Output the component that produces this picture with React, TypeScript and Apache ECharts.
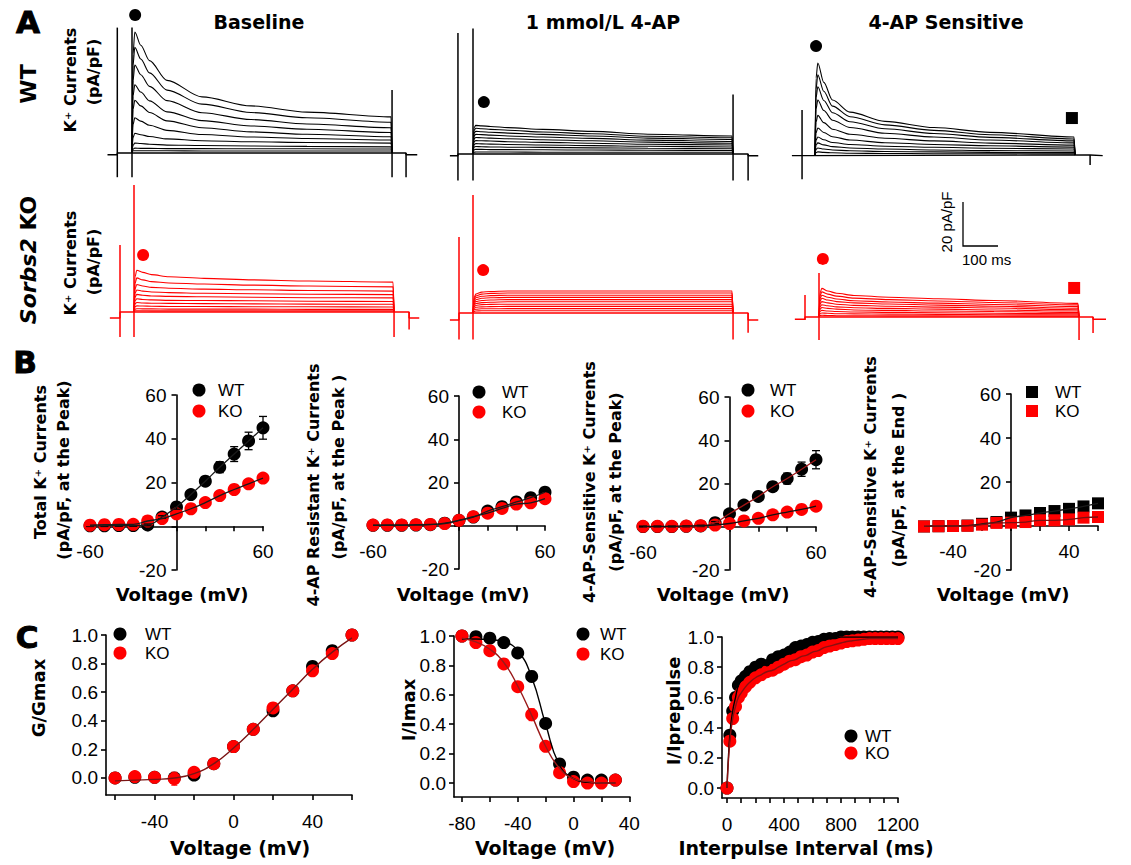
import React, { useEffect, useRef } from "react";
import * as echarts from "echarts";

const SANS = "'Liberation Sans', Arial, sans-serif";
const HEAVY = "'DejaVu Sans', sans-serif";
const RED = "#ff0000";
const BLACK = "#000000";

// ---------------- Panel A : current traces (pA/pF vs ms from step onset) ----------------
const A_TIME = [0, 3, 8, 25, 50, 100, 200, 340, 500, 740, 743];

const WT_BASELINE_SWEEPS = [
  [0, 45, 55, 49, 42, 33, 25.5, 21.4, 18.6, 16.4, 0],
  [0, 40, 48, 42.7, 36.4, 28.6, 22.2, 18.4, 16, 14, 0],
  [0, 33, 40, 35.6, 30.3, 23.8, 18.3, 15.2, 13.2, 11.5, 0],
  [0, 26, 31, 27.7, 23.7, 18.7, 14.7, 12.3, 10.8, 9.3, 0],
  [0, 20, 24, 21.4, 18.4, 14.6, 11.5, 9.6, 8.5, 7.4, 0],
  [0, 13, 16, 14.5, 12.6, 10.3, 8.4, 7.3, 6.6, 5.9, 0],
  [0, 7, 9, 8.3, 7.5, 6.4, 5.6, 5.1, 4.8, 4.5, 0],
  [0, 3.5, 4.5, 4.3, 4, 3.6, 3.4, 3.2, 3.0, 2.8, 0],
  [0, 1.8, 2.2, 2.1, 2.1, 2, 2, 1.9, 1.9, 1.8, 0],
  [0, 1, 1, 1, 1, 1, 0.9, 0.9, 0.9, 0.9, 0],
];
const WT_4AP_SWEEPS = [
  [0, 12, 13, 12.8, 12.5, 12, 11.2, 10.3, 9, 8.2, 0],
  [0, 10.8, 11.7, 11.5, 11.2, 10.8, 10, 9.2, 8.1, 7.4, 0],
  [0, 9.5, 10.3, 10.1, 9.9, 9.5, 8.9, 8.2, 7.2, 6.6, 0],
  [0, 8.2, 8.9, 8.8, 8.6, 8.2, 7.7, 7.1, 6.3, 5.7, 0],
  [0, 6.9, 7.5, 7.4, 7.2, 6.9, 6.5, 6, 5.4, 4.9, 0],
  [0, 5.6, 6.1, 6, 5.9, 5.6, 5.3, 4.9, 4.4, 4.1, 0],
  [0, 4.3, 4.7, 4.6, 4.5, 4.3, 4.1, 3.8, 3.5, 3.2, 0],
  [0, 3.1, 3.4, 3.3, 3.2, 3.1, 3, 2.8, 2.6, 2.4, 0],
  [0, 1.9, 2.1, 2.1, 2, 2, 1.9, 1.8, 1.7, 1.6, 0],
  [0, 0.8, 0.9, 0.9, 0.9, 0.9, 0.8, 0.8, 0.8, 0.8, 0],
];
const WT_SENS_SWEEPS = [
  [0, 35, 41.8, 33, 25, 19.5, 15.3, 12.5, 10.3, 8.2, 0],
  [0, 30, 36.4, 29, 22.2, 17.4, 13.7, 11.2, 9.2, 7.3, 0],
  [0, 26, 31, 24.8, 19.2, 15.1, 11.9, 9.8, 8, 6.4, 0],
  [0, 21, 25, 20.2, 15.8, 12.5, 9.9, 8.2, 6.8, 5.5, 0],
  [0, 15, 18, 14.7, 11.7, 9.4, 7.6, 6.4, 5.4, 4.5, 0],
  [0, 10, 12.3, 10.2, 8.3, 6.8, 5.6, 4.8, 4.2, 3.6, 0],
  [0, 6.8, 8.2, 6.9, 5.7, 4.8, 4, 3.5, 3.1, 2.7, 0],
  [0, 4.5, 5.5, 4.6, 3.8, 3.2, 2.7, 2.3, 2, 1.8, 0],
  [0, 2.6, 3.2, 2.7, 2.3, 1.9, 1.6, 1.4, 1.2, 1.1, 0],
  [0, 1.1, 1.4, 1.2, 1, 0.8, 0.7, 0.6, 0.55, 0.5, 0],
];
const KO_BASELINE_SWEEPS = [
  [0, 16, 19, 18, 17, 16, 15.3, 14.6, 14.1, 13.6, 0],
  [0, 13, 15.5, 14.6, 13.8, 13.2, 12.7, 12.2, 11.8, 11.4, 0],
  [0, 10.5, 12.5, 11.8, 11.2, 10.8, 10.4, 10.1, 9.8, 9.5, 0],
  [0, 8.5, 10, 9.5, 9.1, 8.8, 8.5, 8.3, 8.1, 7.9, 0],
  [0, 6.8, 8, 7.6, 7.3, 7.1, 6.9, 6.7, 6.5, 6.4, 0],
  [0, 5.1, 6, 5.7, 5.5, 5.3, 5.2, 5.1, 4.9, 4.8, 0],
  [0, 3.7, 4.3, 4.1, 4, 3.9, 3.8, 3.7, 3.6, 3.5, 0],
  [0, 2.4, 2.8, 2.7, 2.6, 2.5, 2.5, 2.4, 2.4, 2.3, 0],
  [0, 1.3, 1.5, 1.4, 1.4, 1.3, 1.3, 1.3, 1.2, 1.2, 0],
  [0, 0.5, 0.6, 0.6, 0.5, 0.5, 0.5, 0.5, 0.5, 0.5, 0],
];
const KO_4AP_SWEEPS = [
  [0, 7, 8.6, 9.5, 9.8, 10, 10, 10, 10, 10, 0],
  [0, 6.3, 7.8, 8.6, 8.9, 9.1, 9.1, 9.1, 9.1, 9.1, 0],
  [0, 5.6, 6.9, 7.6, 7.9, 8.1, 8.1, 8.1, 8.1, 8.1, 0],
  [0, 4.9, 6, 6.7, 6.9, 7.1, 7.1, 7.1, 7.1, 7.1, 0],
  [0, 4.2, 5.2, 5.7, 5.9, 6.1, 6.1, 6.1, 6.1, 6.1, 0],
  [0, 3.5, 4.3, 4.7, 4.9, 5.1, 5.1, 5.1, 5.1, 5.1, 0],
  [0, 2.8, 3.4, 3.8, 3.9, 4, 4, 4, 4, 4, 0],
  [0, 2.1, 2.6, 2.8, 2.9, 3, 3, 3, 3, 3, 0],
  [0, 1.4, 1.7, 1.9, 1.9, 2, 2, 2, 2, 2, 0],
  [0, 0.7, 0.9, 1, 1, 1, 1, 1, 1, 1, 0],
];
const KO_SENS_SWEEPS = [
  [0, 11, 13, 11.8, 10.8, 9.8, 9, 8.3, 7.5, 6.2, 0],
  [0, 9.7, 11.4, 10.4, 9.5, 8.6, 7.9, 7.3, 6.6, 5.5, 0],
  [0, 8.4, 9.9, 9, 8.2, 7.4, 6.8, 6.3, 5.7, 4.7, 0],
  [0, 7.2, 8.5, 7.7, 7, 6.4, 5.9, 5.4, 4.9, 4, 0],
  [0, 5.9, 7, 6.4, 5.8, 5.3, 4.9, 4.5, 4.1, 3.3, 0],
  [0, 4.7, 5.6, 5.1, 4.6, 4.2, 3.9, 3.6, 3.2, 2.7, 0],
  [0, 3.6, 4.3, 3.9, 3.6, 3.2, 3, 2.7, 2.5, 2, 0],
  [0, 2.5, 3, 2.7, 2.5, 2.3, 2.1, 1.9, 1.7, 1.4, 0],
  [0, 1.5, 1.8, 1.7, 1.5, 1.4, 1.3, 1.2, 1, 0.9, 0],
  [0, 0.7, 0.8, 0.7, 0.6, 0.6, 0.5, 0.5, 0.4, 0.4, 0],
];

// holding-current polylines [t, I]
const WT_BASELINE_HOLD = [[-70, -0.8], [-42, -0.8], [-42, 0], [783, 0], [783, -0.8], [815, -0.8]];
const WT_4AP_HOLD = [[-66, -0.8], [-43, -0.8], [-43, 0], [786, 0], [786, -0.8], [815, -0.8]];
const WT_SENS_HOLD = [[-66, -0.3], [-37, -0.3], [-37, 0], [786, 0], [786, -0.3], [822, -0.3]];
const KO_BASELINE_HOLD = [[-69, -2.7], [-40, -2.7], [-40, 0], [786, 0], [786, -2.7], [815, -2.7]];
const KO_4AP_HOLD = [[-66, -3.2], [-40, -3.2], [-40, 0], [786, 0], [786, -3.2], [815, -3.2]];
const KO_SENS_HOLD = [[-69, -1], [-40, -1], [-40, 0], [783, 0], [783, -1], [820, -1]];

// capacitive transients [t, min, max]
const WT_BASELINE_CAP = [[-42, -11, 57], [0, -11, 57], [743, -11, 28.6], [783, -11, 0]];
const WT_4AP_CAP = [[-43, -12, 55], [0, -12, 57], [743, -12, 27], [786, -12, 0]];
const WT_SENS_CAP = [[-37, -11, 20.5], [786, -4.5, 0]];
const KO_BASELINE_CAP = [[-40, -11.4, 30.5], [0, -11.4, 57.7], [743, -11.4, 0], [786, -8, 0]];
const KO_4AP_CAP = [[-40, -12, 34.5], [0, -12, 53.6], [743, -12, 0], [786, -9, 0]];
const KO_SENS_CAP = [[-40, -1.4, 10], [0, -10.5, 20], [743, -10.5, 0], [783, -7.3, 0]];

// peak (circle) and end (square) markers [t, I]
const WT_BASELINE_DOT = [[9, 62.7]];
const WT_4AP_DOT = [[31, 23.6]];
const WT_SENS_DOT = [[3, 49.5]];
const WT_SENS_SQ = [[734, 16.8]];
const KO_BASELINE_DOT = [[26, 25.9]];
const KO_4AP_DOT = [[29, 19.5]];
const KO_SENS_DOT = [[11, 26.4]];
const KO_SENS_SQ = [[729, 13.2]];

// ---------------- Panel B : I-V relations ----------------
const B_V = [-60, -50, -40, -30, -20, -10, 0, 10, 20, 30, 40, 50, 60];
const B1_WT = [0.2, 0.2, 0.3, 0.3, 0.6, 4.2, 8.8, 14.5, 20.6, 27, 33, 39, 45];
const B1_WT_ERR = [0.3, 0.3, 0.3, 0.3, 0.4, 0.6, 1, 1.3, 1.8, 2.5, 3.4, 4, 5.2];
const B1_KO = [0.5, 0.7, 0.8, 0.9, 2.4, 3.5, 5.7, 8, 10.8, 14, 16.8, 19.4, 22];
const B1_KO_ERR = [0.2, 0.2, 0.2, 0.3, 0.4, 0.5, 0.6, 0.8, 1, 1.2, 1.4, 1.6, 1.8];
const B2_WT = [0.2, 0.2, 0.2, 0.3, 0.5, 1.2, 2.5, 4, 6.8, 8.8, 11, 13, 15.5];
const B2_KO = [0.3, 0.4, 0.4, 0.5, 0.6, 1, 2.5, 4.2, 5.8, 8, 10, 10.6, 12.5];
const B3_WT = [0.1, 0.1, 0.1, 0.2, 0.4, 1.9, 6, 10, 14, 18.5, 22.3, 26.6, 31];
const B3_WT_ERR = [0.2, 0.2, 0.2, 0.2, 0.3, 0.5, 0.8, 1.2, 1.6, 2, 2.5, 3.3, 4.2];
const B3_KO = [0.2, 0.2, 0.2, 0.3, 0.5, 0.8, 1.5, 2.7, 3.9, 5.5, 6.8, 8, 9.5];
const B4_WT = [-0.2, -0.1, 0, 0.2, 1, 1.8, 3.8, 4.8, 5.9, 6.8, 7.8, 8.9, 10.3];
const B4_KO = [-0.2, -0.1, 0, 0.1, 0.6, 1.4, 1.5, 1.8, 2.6, 2.6, 3, 3.8, 4.1];

// ---------------- Panel C ----------------
const C1_V = [-60, -50, -40, -30, -20, -10, 0, 10, 20, 30, 40, 50, 60];
const C1_WT = [0, 0.005, 0.005, 0, 0.02, 0.1, 0.22, 0.34, 0.47, 0.61, 0.78, 0.89, 1.0];
const C1_WT_ERR = [0.02, 0.02, 0.02, 0.02, 0.02, 0.02, 0.02, 0.02, 0.02, 0.02, 0.02, 0.02, 0];
const C1_KO = [0, 0.01, 0.005, -0.005, 0.04, 0.1, 0.22, 0.34, 0.49, 0.61, 0.75, 0.87, 1.0];
const C1_KO_ERR = [0.03, 0.025, 0.025, 0.045, 0.025, 0.02, 0.02, 0.02, 0.02, 0.02, 0.02, 0.02, 0];
const C1_FIT = [-0.02, -0.015, -0.01, 0.0, 0.03, 0.1, 0.21, 0.34, 0.48, 0.62, 0.76, 0.88, 0.98];

const C2_V = [-80, -70, -60, -50, -40, -30, -20, -10, 0, 10, 20, 30];
const C2_WT = [1.0, 0.995, 0.985, 0.955, 0.885, 0.725, 0.405, 0.13, 0.04, 0.02, 0.02, 0.02];
const C2_WT_ERR = [0, 0.01, 0.01, 0.015, 0.02, 0.035, 0.03, 0.02, 0.01, 0.01, 0.01, 0.01];
const C2_KO = [1.0, 0.955, 0.9, 0.81, 0.655, 0.465, 0.25, 0.07, 0.01, 0.0, 0.0, 0.02];
const C2_KO_ERR = [0, 0.015, 0.02, 0.02, 0.03, 0.04, 0.03, 0.02, 0.01, 0.01, 0.01, 0.01];
const C2_WT_FIT = [0.98, 0.98, 0.975, 0.96, 0.9, 0.72, 0.4, 0.12, 0.03, 0.005, 0.0, 0.0];
const C2_KO_FIT = [0.985, 0.96, 0.91, 0.82, 0.66, 0.46, 0.25, 0.1, 0.03, 0.01, 0.0, 0.0];

const C3_T = [0, 20, 40, 60, 80, 100, 130, 160, 200, 240, 280, 320, 360, 400, 440, 480, 520,
  560, 600, 640, 680, 720, 760, 800, 840, 880, 920, 960, 1000, 1040, 1080, 1120, 1160, 1200];
const C3_WT = [0, 0.35, 0.51, 0.6, 0.68, 0.71, 0.74, 0.77, 0.8, 0.82, 0.81, 0.85, 0.87, 0.88, 0.9,
  0.93, 0.94, 0.95, 0.965, 0.97, 0.985, 0.99, 0.99, 1.0, 1.0, 1.0, 1.0, 1.0, 1.0, 1.0, 1.0, 1.0, 1.0, 1.0];
const C3_KO = [0, 0.31, 0.46, 0.54, 0.6, 0.63, 0.67, 0.7, 0.73, 0.75, 0.77, 0.78, 0.8, 0.82, 0.84,
  0.85, 0.87, 0.88, 0.9, 0.91, 0.93, 0.94, 0.95, 0.96, 0.97, 0.975, 0.98, 0.985, 0.99, 0.99, 0.99, 0.99, 0.99, 0.99];

// ---------------- layout ----------------
const A_TMIN = -70, A_TMAX = 825, A_IMIN = -14, A_IMAX = 66;
const A_PX_MS = 0.35, A_PX_UNIT = 2.2;

type Pt = number[];

function buildOption() {
  const grids: any[] = [];
  const xAxes: any[] = [];
  const yAxes: any[] = [];
  const series: any[] = [];
  const G: any[] = [];

  const zip = (xs: number[], ys: number[]) => xs.map((x, i) => [x, ys[i]]);

  const vlines = (gi: number, data: Pt[], color: string, width: number, cap: number, z = 3) => ({
    type: "custom", xAxisIndex: gi, yAxisIndex: gi, data, silent: true, z, clip: false,
    encode: { x: 0, y: [1, 2] },
    renderItem: (_p: any, api: any) => {
      const x = api.value(0), lo = api.value(1), hi = api.value(2);
      const a = api.coord([x, lo]), b = api.coord([x, hi]);
      const st = { stroke: color, lineWidth: width };
      const ch: any[] = [{ type: "line", shape: { x1: a[0], y1: a[1], x2: b[0], y2: b[1] }, style: st }];
      if (cap > 0) {
        ch.push({ type: "line", shape: { x1: a[0] - cap, y1: a[1], x2: a[0] + cap, y2: a[1] }, style: st });
        ch.push({ type: "line", shape: { x1: b[0] - cap, y1: b[1], x2: b[0] + cap, y2: b[1] }, style: st });
      }
      return { type: "group", children: ch };
    },
  });
  const errData = (xs: number[], ys: number[], es: number[]) => xs.map((x, i) => [x, ys[i] - es[i], ys[i] + es[i]]);
  const dots = (gi: number, data: Pt[], color: string, symbol = "circle", size = 13, z = 3) => ({
    type: "scatter", xAxisIndex: gi, yAxisIndex: gi, data, symbol, symbolSize: size,
    itemStyle: { color, opacity: 1 }, silent: true, z,
  });

  // ---------- A ----------
  const A_PANELS = [
    { sweeps: WT_BASELINE_SWEEPS, hold: WT_BASELINE_HOLD, cap: WT_BASELINE_CAP, dot: WT_BASELINE_DOT, sq: null, color: BLACK, stepX: 132, baseY: 153 },
    { sweeps: WT_4AP_SWEEPS, hold: WT_4AP_HOLD, cap: WT_4AP_CAP, dot: WT_4AP_DOT, sq: null, color: BLACK, stepX: 473, baseY: 154 },
    { sweeps: WT_SENS_SWEEPS, hold: WT_SENS_HOLD, cap: WT_SENS_CAP, dot: WT_SENS_DOT, sq: WT_SENS_SQ, color: BLACK, stepX: 815, baseY: 155 },
    { sweeps: KO_BASELINE_SWEEPS, hold: KO_BASELINE_HOLD, cap: KO_BASELINE_CAP, dot: KO_BASELINE_DOT, sq: null, color: RED, stepX: 134, baseY: 312 },
    { sweeps: KO_4AP_SWEEPS, hold: KO_4AP_HOLD, cap: KO_4AP_CAP, dot: KO_4AP_DOT, sq: null, color: RED, stepX: 473, baseY: 313 },
    { sweeps: KO_SENS_SWEEPS, hold: KO_SENS_HOLD, cap: KO_SENS_CAP, dot: KO_SENS_DOT, sq: KO_SENS_SQ, color: RED, stepX: 819, baseY: 317 },
  ];
  A_PANELS.forEach((p) => {
    const gi = grids.length;
    grids.push({
      left: p.stepX + A_TMIN * A_PX_MS, top: p.baseY - A_IMAX * A_PX_UNIT,
      width: (A_TMAX - A_TMIN) * A_PX_MS, height: (A_IMAX - A_IMIN) * A_PX_UNIT,
      outerBoundsMode: "none",
    });
    xAxes.push({ gridIndex: gi, type: "value", min: A_TMIN, max: A_TMAX, show: false, splitLine: { show: false } });
    yAxes.push({ gridIndex: gi, type: "value", min: A_IMIN, max: A_IMAX, show: false, splitLine: { show: false } });
    series.push({
      type: "line", xAxisIndex: gi, yAxisIndex: gi, data: p.hold, showSymbol: false, silent: true,
      lineStyle: { color: p.color, width: 1.4 }, z: 2,
    });
    p.sweeps.forEach((sw) => {
      series.push({
        type: "line", xAxisIndex: gi, yAxisIndex: gi, data: zip(A_TIME, sw), showSymbol: false, silent: true,
        smooth: 0.3, smoothMonotone: "x", lineStyle: { color: p.color, width: 1.1 }, z: 2,
      });
    });
    series.push(vlines(gi, p.cap, p.color, 1.5, 0));
    series.push(dots(gi, p.dot, p.color, "circle", 12, 4));
    if (p.sq) series.push(dots(gi, p.sq, p.color, "rect", 12, 4));
  });

  // ---------- B ----------
  const lineSt = { color: BLACK, width: 1.6 };
  const B_PANELS = [
    { left: 90, top: 395, width: 173, height: 175, wt: B1_WT, wtErr: B1_WT_ERR, ko: B1_KO, koErr: B1_KO_ERR, xl: [-60, 60], sym: "circle", wtFit: "#1a1a1a", koFit: "#1a1a1a" },
    { left: 373, top: 396, width: 172, height: 173, wt: B2_WT, wtErr: null, ko: B2_KO, koErr: null, xl: [-60, 60], sym: "circle", wtFit: "#1a1a1a", koFit: "#1a1a1a" },
    { left: 643, top: 397, width: 173, height: 173, wt: B3_WT, wtErr: B3_WT_ERR, ko: B3_KO, koErr: null, xl: [-60, 60], sym: "circle", wtFit: "#a01515", koFit: "#111111" },
    { left: 924, top: 394, width: 174, height: 176, wt: B4_WT, wtErr: null, ko: B4_KO, koErr: null, xl: [-40, 40], sym: "rect", wtFit: "#1a1a1a", koFit: "#7a1010" },
  ];
  const B_XMIN = -60, B_XMAX = 60, B_YMIN = -20, B_YMAX = 60;
  B_PANELS.forEach((p) => {
    const gi = grids.length;
    grids.push({ left: p.left, top: p.top, width: p.width, height: p.height, outerBoundsMode: "none" });
    // place axes through the origin (offsets measured from the grid edges)
    const xOff = -p.height * (0 - B_YMIN) / (B_YMAX - B_YMIN);
    const yOff = -p.width * (0 - B_XMIN) / (B_XMAX - B_XMIN);
    xAxes.push({
      gridIndex: gi, type: "value", min: B_XMIN, max: B_XMAX, interval: 20, position: "bottom", offset: xOff,
      axisLine: { show: true, onZero: false, lineStyle: lineSt },
      axisTick: { show: true, length: 5, inside: false, lineStyle: lineSt },
      splitLine: { show: false },
      axisLabel: {
        color: BLACK, fontFamily: SANS, fontSize: 19, margin: 16,
        formatter: (v: number) => (p.xl.indexOf(v) >= 0 ? String(v) : ""),
      },
    });
    yAxes.push({
      gridIndex: gi, type: "value", min: B_YMIN, max: B_YMAX, interval: 20, position: "left", offset: yOff,
      axisLine: { show: true, onZero: false, lineStyle: lineSt },
      axisTick: { show: true, length: 5, inside: false, lineStyle: lineSt },
      splitLine: { show: false },
      axisLabel: {
        color: BLACK, fontFamily: SANS, fontSize: 19, margin: 10,
        formatter: (v: number) => (v === 0 ? "" : String(v)),
      },
    });
    const sz = p.sym === "rect" ? 12 : 13;
    series.push(dots(gi, zip(B_V, p.wt), BLACK, p.sym, sz));
    series.push(dots(gi, zip(B_V, p.ko), RED, p.sym, sz));
    if (p.wtErr) series.push(vlines(gi, errData(B_V, p.wt, p.wtErr), BLACK, 1.3, 4, 4));
    if (p.koErr) series.push(vlines(gi, errData(B_V, p.ko, p.koErr), RED, 1.3, 4, 4));
    series.push({ type: "line", xAxisIndex: gi, yAxisIndex: gi, data: zip(B_V, p.wt), smooth: true, showSymbol: false, silent: true, lineStyle: { color: p.wtFit, width: 1.3 }, z: 5 });
    series.push({ type: "line", xAxisIndex: gi, yAxisIndex: gi, data: zip(B_V, p.ko), smooth: true, showSymbol: false, silent: true, lineStyle: { color: p.koFit, width: 1.3 }, z: 5 });
  });

  // ---------- C ----------
  const cAxisLine = { show: true, onZero: false, lineStyle: lineSt };
  const cTick = { show: true, length: 5, inside: false, lineStyle: lineSt };
  const C_PANELS = [
    {
      left: 106, top: 635, width: 246, height: 160, xmin: -64.6, xmax: 60, ymin: -0.119, ymax: 1.0,
      xt: [-60, -40, -20, 0, 20, 40, 60], xl: [-40, 0, 40],
    },
    {
      left: 454, top: 636, width: 176, height: 161, xmin: -85.7, xmax: 40.5, ymin: -0.095, ymax: 1.0,
      xt: [-80, -60, -40, -20, 0, 20, 40], xl: [-80, -40, 0, 40],
    },
    {
      left: 722, top: 637, width: 176, height: 161, xmin: -35, xmax: 1200, ymin: -0.066, ymax: 1.0,
      xt: [0, 100, 200, 300, 400, 500, 600, 700, 800, 900, 1000, 1100, 1200], xl: [0, 400, 800, 1200],
    },
  ];
  const yT = [0, 0.2, 0.4, 0.6, 0.8, 1.0];
  C_PANELS.forEach((p) => {
    const gi = grids.length;
    grids.push({ left: p.left, top: p.top, width: p.width, height: p.height, outerBoundsMode: "none" });
    xAxes.push({
      gridIndex: gi, type: "value", min: p.xmin, max: p.xmax, axisLine: cAxisLine,
      axisTick: { ...cTick, customValues: p.xt }, splitLine: { show: false },
      axisLabel: { customValues: p.xl, color: BLACK, fontFamily: SANS, fontSize: 19, margin: 17, formatter: (v: number) => String(v) },
    });
    yAxes.push({
      gridIndex: gi, type: "value", min: p.ymin, max: p.ymax, axisLine: cAxisLine,
      axisTick: { ...cTick, customValues: yT }, splitLine: { show: false },
      axisLabel: { customValues: yT, color: BLACK, fontFamily: SANS, fontSize: 19, margin: 8, formatter: (v: number) => Number(v).toFixed(1) },
    });
  });
  // C1
  series.push(dots(10, zip(C1_V, C1_WT), BLACK));
  series.push(vlines(10, errData(C1_V, C1_WT, C1_WT_ERR), BLACK, 1.2, 3, 3));
  series.push(dots(10, zip(C1_V, C1_KO), RED));
  series.push(vlines(10, errData(C1_V, C1_KO, C1_KO_ERR), RED, 1.2, 3, 4));
  series.push({ type: "line", xAxisIndex: 10, yAxisIndex: 10, data: zip(C1_V, C1_FIT), smooth: true, showSymbol: false, silent: true, lineStyle: { color: "#7a1414", width: 1.4 }, z: 5 });
  // C2
  series.push(dots(11, zip(C2_V, C2_WT), BLACK));
  series.push(vlines(11, errData(C2_V, C2_WT, C2_WT_ERR), BLACK, 1.2, 3, 3));
  series.push(dots(11, zip(C2_V, C2_KO), RED));
  series.push(vlines(11, errData(C2_V, C2_KO, C2_KO_ERR), RED, 1.2, 3, 4));
  series.push({ type: "line", xAxisIndex: 11, yAxisIndex: 11, data: zip(C2_V, C2_WT_FIT), smooth: true, showSymbol: false, silent: true, lineStyle: { color: BLACK, width: 1.4 }, z: 5 });
  series.push({ type: "line", xAxisIndex: 11, yAxisIndex: 11, data: zip(C2_V, C2_KO_FIT), smooth: true, showSymbol: false, silent: true, lineStyle: { color: "#9a1a1a", width: 1.4 }, z: 5 });
  // C3
  series.push(dots(12, zip(C3_T, C3_WT), BLACK));
  series.push(dots(12, zip(C3_T, C3_KO), RED));
  series.push({ type: "line", xAxisIndex: 12, yAxisIndex: 12, data: zip(C3_T, C3_WT), smooth: true, showSymbol: false, silent: true, lineStyle: { color: BLACK, width: 1.4 }, z: 5 });
  series.push({ type: "line", xAxisIndex: 12, yAxisIndex: 12, data: zip(C3_T, C3_KO), smooth: true, showSymbol: false, silent: true, lineStyle: { color: "#8a1010", width: 1.4 }, z: 5 });

  // ---------- graphics (text, legends, scale bar) ----------
  const txt = (x: number, y: number, text: string, font: string, align = "center", rot = 0, extra: any = {}) => ({
    type: "text", x, y, rotation: rot, silent: true, z: 10,
    style: {
      text, font, fill: BLACK, textAlign: align, textVerticalAlign: "middle", align, verticalAlign: "middle", ...extra,
    },
  });
  const V = Math.PI / 2;
  const heavy = (s: number) => `bold ${s}px ${HEAVY}`;
  const normal = (s: number) => `${s}px ${SANS}`;

  G.push(txt(28, 22, "A", heavy(31), "center", 0, { stroke: BLACK, lineWidth: 1 }));
  G.push(txt(25, 362, "B", heavy(31), "center", 0, { stroke: BLACK, lineWidth: 1 }));
  G.push(txt(27, 637, "C", heavy(31), "center", 0, { stroke: BLACK, lineWidth: 1 }));

  G.push(txt(259, 22, "Baseline", heavy(19)));
  G.push(txt(603, 22, "1 mmol/L 4-AP", heavy(19)));
  G.push(txt(946, 22, "4-AP Sensitive", heavy(19)));

  G.push(txt(28, 84, "WT", heavy(22), "center", V));
  G.push(txt(70, 80, "K\u207A Currents", heavy(16), "center", V));
  G.push(txt(93, 72, "(pA/pF)", heavy(16), "center", V));
  G.push({
    type: "text", x: 28, y: 260, rotation: V, silent: true, z: 10,
    style: {
      text: "{i|Sorbs2} KO", font: heavy(22), fill: BLACK, textAlign: "center", textVerticalAlign: "middle", align: "center", verticalAlign: "middle",
      rich: { i: { fontStyle: "italic", fontWeight: "bold", fontSize: 22, fontFamily: HEAVY, fill: BLACK } },
    },
  });
  G.push(txt(70, 263, "K\u207A Currents", heavy(16), "center", V));
  G.push(txt(93, 262, "(pA/pF)", heavy(16), "center", V));

  // scale bar
  G.push({ type: "polyline", silent: true, z: 10, shape: { points: [[963, 202], [963, 246], [998, 246]] }, style: { stroke: BLACK, lineWidth: 1.3, fill: null } });
  G.push(txt(962, 259, "100 ms", normal(15), "left"));
  G.push(txt(946, 222, "20 pA/pF", normal(15), "center", V));

  // B axis names
  G.push(txt(40, 462, "Total K\u207A Currents", heavy(16), "center", V));
  G.push(txt(63, 470, "(pA/pF, at the Peak)", heavy(16), "center", V));
  G.push(txt(313, 485, "4-AP Resistant K\u207A Currents", heavy(16), "center", V));
  G.push(txt(338, 467, "(pA/pF, at the Peak )", heavy(16), "center", V));
  G.push(txt(589, 482, "4-AP-Sensitive K\u207A Currents", heavy(16), "center", V));
  G.push(txt(615, 482, "(pA/pF, at the Peak)", heavy(16), "center", V));
  G.push(txt(870, 477, "4-AP-Sensitive K\u207A Currents", heavy(16), "center", V));
  G.push(txt(898, 480, "(pA/pF, at the End )", heavy(16), "center", V));
  [182, 463, 723, 1003].forEach((x) => G.push(txt(x, 594, "Voltage (mV)", heavy(18))));

  // C axis names
  G.push(txt(38, 698, "G/Gmax", heavy(18), "center", V));
  G.push(txt(408, 710, "I/Imax", heavy(18), "center", V));
  G.push(txt(673, 711, "I/Iprepulse", heavy(18), "center", V));
  G.push(txt(240, 848, "Voltage (mV)", heavy(19)));
  G.push(txt(545, 848, "Voltage (mV)", heavy(19)));
  G.push(txt(806, 848, "Interpulse Interval (ms)", heavy(19)));

  // legends
  const legend = (x: number, y1: number, y2: number, tx: number, sym: string) => {
    [[y1, BLACK, "WT"], [y2, RED, "KO"]].forEach(([y, c, t]: any) => {
      if (sym === "rect") {
        G.push({ type: "rect", silent: true, z: 10, shape: { x: x - 6, y: y - 6, width: 12, height: 12 }, style: { fill: c } });
      } else {
        G.push({ type: "circle", silent: true, z: 10, shape: { cx: x, cy: y, r: 6.5 }, style: { fill: c } });
      }
      G.push(txt(tx, y, t, normal(17), "left"));
    });
  };
  legend(199, 390, 411, 218, "circle");
  legend(479, 392, 412, 502, "circle");
  legend(748, 390, 411, 770, "circle");
  legend(1032, 392, 411, 1055, "rect");
  legend(120, 634, 653, 145, "circle");
  legend(583, 634, 654, 600, "circle");
  legend(851, 736, 753, 865, "circle");

  return {
    animation: false,
    backgroundColor: "#ffffff",
    textStyle: { fontFamily: SANS },
    grid: grids,
    xAxis: xAxes,
    yAxis: yAxes,
    series,
    graphic: { elements: G },
  };
}

export default function App() {
  const ref = useRef<HTMLDivElement>(null);
  useEffect(() => {
    if (!ref.current) return;
    const chart = echarts.init(ref.current, undefined, { renderer: "svg" });
    chart.setOption(buildOption() as any);
    return () => chart.dispose();
  }, []);
  return <div ref={ref} style={{ position: "absolute", left: 0, top: 0, width: 1131, height: 865 }} />;
}
